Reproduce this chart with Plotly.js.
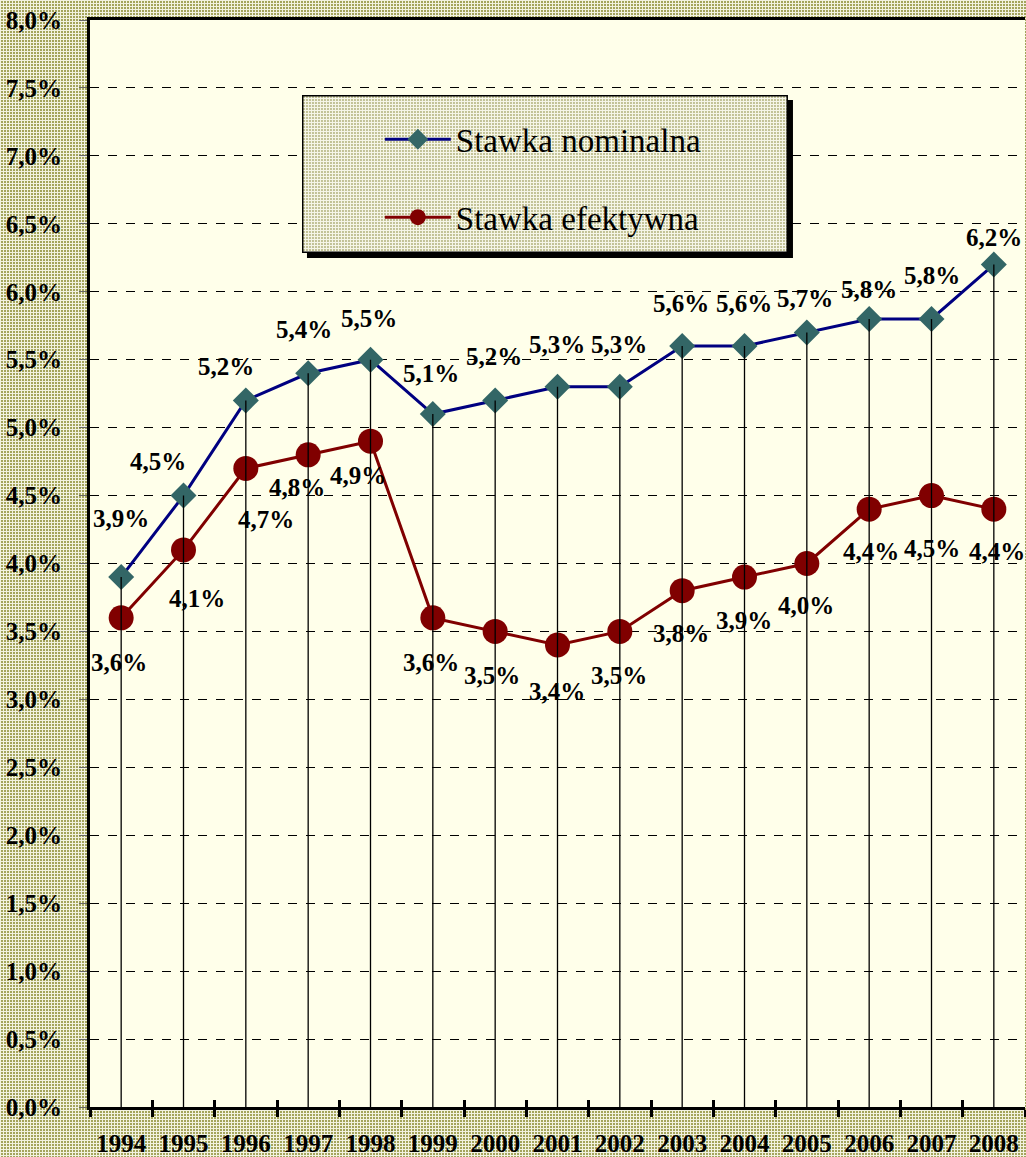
<!DOCTYPE html>
<html>
<head>
<meta charset="utf-8">
<script src="https://cdn.plot.ly/plotly-3.0.1.min.js"></script>
<style>
html, body { margin:0; padding:0; }
body {
  width:1026px; height:1157px; overflow:hidden;
  background-color:#EEEED8;
  background-image:url("data:image/svg+xml,%3Csvg xmlns='http://www.w3.org/2000/svg' width='3' height='3'%3E%3Crect width='3' height='3' fill='%23F2F2E0'/%3E%3Crect x='1' y='1' width='2' height='2' fill='%23A4A45C'/%3E%3C/svg%3E");
}
#chart { width:1026px; height:1157px; }
</style>
</head>
<body>
<div id="chart"></div>
<script>
// ---- data ----
const years = ['1994','1995','1996','1997','1998','1999','2000','2001','2002','2003','2004','2005','2006','2007','2008'];
const nominal = [0.039,0.045,0.052,0.054,0.055,0.051,0.052,0.053,0.053,0.056,0.056,0.057,0.058,0.058,0.062];
const effective = [0.036,0.041,0.047,0.048,0.049,0.036,0.035,0.034,0.035,0.038,0.039,0.040,0.044,0.045,0.044];
const nominalName = 'Stawka nominalna';
const effectiveName = 'Stawka efektywna';

// ---- label placement (pixel offsets from the point, style only) ----
const nomDx = [0,-26,-20,-4,-2,-2,-1,-1,-1,-1,-1,-2,0,0,0];
const nomDy = [59,34,34,44,41,41,44,42,42,43,43,34,29,43,27];
const effDx = [-2,13,20,-11,-13,-2,-3,-1,-1,-1,-1,-1,2,0,3];
const effDy = [-45,-49,-51,-33,-34,-45,-44,-46,-44,-43,-43,-42,-42,-53,-42];

const fmt = v => (v*100).toFixed(1).replace('.', ',') + '%';
const serif = 'Liberation Serif, Times New Roman, serif';

const annotations = [];
years.forEach((yr, i) => {
  annotations.push({x:i, y:nominal[i], xref:'x', yref:'y', text:'<b>'+fmt(nominal[i])+'</b>',
    showarrow:false, xshift:nomDx[i], yshift:nomDy[i], font:{family:serif, size:25, color:'#000'}});
  annotations.push({x:i, y:effective[i], xref:'x', yref:'y', text:'<b>'+fmt(effective[i])+'</b>',
    showarrow:false, xshift:effDx[i], yshift:effDy[i], font:{family:serif, size:25, color:'#000'}});
});

const drop = {
  x: years, y: nominal, xaxis:'x2', yaxis:'y', type:'scatter', mode:'markers',
  marker:{size:1, color:'rgba(0,0,0,0)'}, showlegend:false, hoverinfo:'skip',
  error_y:{type:'data', symmetric:false, array:years.map(()=>0), arrayminus:nominal,
    color:'#000', thickness:1.3, width:0}
};
const tNom = {
  x: years, y: nominal, name: nominalName, type:'scatter', mode:'lines+markers',
  legendgroup:'a',
  line:{color:'#000080', width:3},
  marker:{symbol:'diamond', size:20, color:'#336666', line:{width:0}}
};
const tEff = {
  x: years, y: effective, name: effectiveName, type:'scatter', mode:'lines+markers',
  legendgroup:'b',
  line:{color:'#800000', width:3},
  marker:{symbol:'circle', size:25, color:'#800000', line:{width:0}}
};

const legendSvg = "<svg xmlns='http://www.w3.org/2000/svg' width='491' height='163'>" +
  "<defs><pattern id='p' width='3' height='3' patternUnits='userSpaceOnUse'>" +
  "<rect width='3' height='3' fill='#F6F6E8'/><rect x='1' y='1' width='2' height='2' fill='#C2C296'/></pattern></defs>" +
  "<rect x='5' y='5' width='486' height='158' fill='#000'/>" +
  "<rect x='0.75' y='0.75' width='484.5' height='156.5' fill='url(#p)' stroke='#000' stroke-width='1.5'/></svg>";

const axisFont = {family:serif, size:25, color:'#000'};

const layout = {
  width:1026, height:1157,
  margin:{l:90, r:1, t:20, b:50, pad:0},
  paper_bgcolor:'rgba(0,0,0,0)',
  plot_bgcolor:'#FFFFEA',
  separators:', ',
  showlegend:true,
  xaxis:{
    type:'category', categoryarray:years, range:[-0.5,14.5],
    tickson:'boundaries', ticks:'outside', ticklen:7, tickwidth:3, tickcolor:'#000',
    showline:true, linewidth:3, linecolor:'#000', mirror:true,
    showgrid:false, zeroline:false, tickangle:0,
    tickfont:axisFont, ticklabelstandoff:12,
    tickprefix:'<b>', ticksuffix:'</b>'
  },
  xaxis2:{
    type:'category', categoryarray:years, range:[-0.5,14.5], overlaying:'x', anchor:'y', side:'bottom',
    tickson:'boundaries', ticks:'inside', ticklen:7, tickwidth:3, tickcolor:'#000',
    showticklabels:false, showline:false, showgrid:false, zeroline:false
  },
  yaxis:{
    range:[0,0.08], dtick:0.005, tick0:0, tickformat:'.1%',
    ticks:'outside', ticklen:8, tickwidth:1, tickcolor:'#666',
    showline:true, linewidth:3, linecolor:'#000',
    showgrid:true, gridcolor:'#000', gridwidth:1, griddash:'dash',
    zeroline:false,
    tickfont:axisFont, ticklabelstandoff:12,
    tickprefix:'<b>', ticksuffix:'</b>'
  },
  legend:{
    x:0.310, y:0.916, xanchor:'left', yanchor:'top',
    bgcolor:'rgba(0,0,0,0)', borderwidth:0,
    font:{family:serif, size:33, color:'#000'},
    traceorder:'grouped', tracegroupgap:32, itemwidth:66
  },
  images:[{
    source:'data:image/svg+xml;charset=utf-8,' + encodeURIComponent(legendSvg),
    xref:'paper', yref:'paper', x:0.2267, y:0.931, sizex:491/935, sizey:163/1087,
    xanchor:'left', yanchor:'top', sizing:'stretch', layer:'above'
  }],
  annotations: annotations
};

Plotly.newPlot('chart', [drop, tNom, tEff], layout, {staticPlot:true, displayModeBar:false});
</script>
</body>
</html>
